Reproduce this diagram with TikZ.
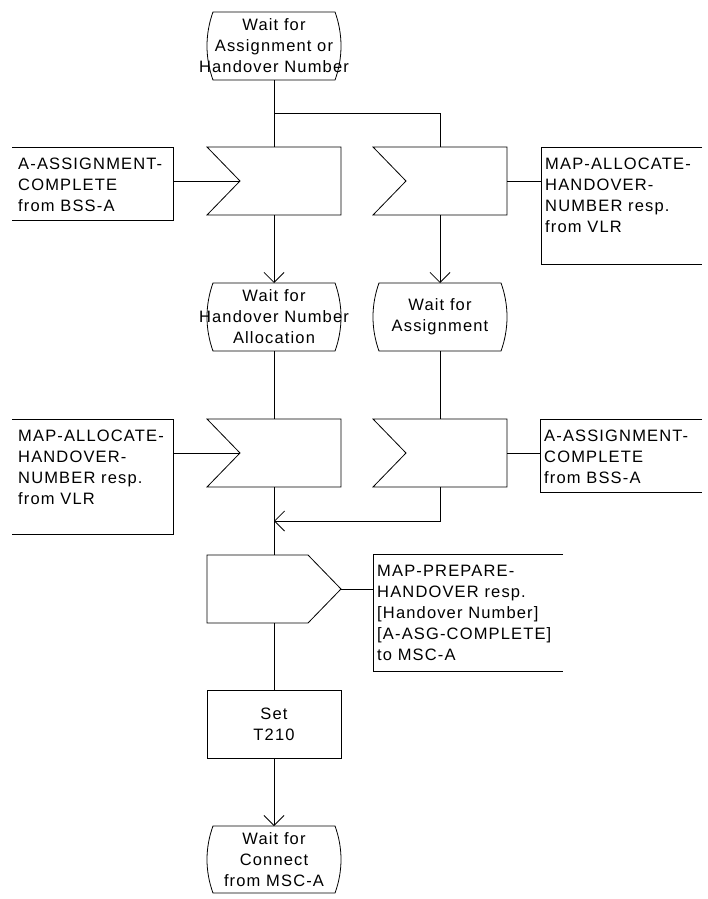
\documentclass[tikz,border=0pt]{standalone}
\usepackage{fontspec}
\setmainfont{Liberation Sans}[LetterSpace=7]
\usetikzlibrary{arrows.meta}
\tikzset{
  ln/.style={line width=0.8pt},
  arr/.style={ln, -{Straight Barb[length=10pt,width=20pt]}},
  txt/.style={font=\fontsize{16.5}{21}\selectfont, inner sep=0pt},
  stxt/.style={txt, anchor=center, align=center},
  ctxtl/.style={txt, anchor=north west, align=left, inner xsep=6pt, inner ysep=11pt},
  ctxtr/.style={txt, anchor=north west, align=left, inner xsep=4pt, inner ysep=11pt},
  base/.style={minimum width=134pt, minimum height=68pt, inner sep=0pt, outer sep=0pt},
  statebox/.style={base,
    append after command={\pgfextra{\draw[ln]
      ([xshift=6pt]\tikzlastnode.north west) -- ([xshift=-6pt]\tikzlastnode.north east)
      .. controls ([xshift=2pt,yshift=-22pt]\tikzlastnode.north east) and ([xshift=2pt,yshift=22pt]\tikzlastnode.south east) .. ([xshift=-6pt]\tikzlastnode.south east)
      -- ([xshift=6pt]\tikzlastnode.south west)
      .. controls ([xshift=-2pt,yshift=22pt]\tikzlastnode.south west) and ([xshift=-2pt,yshift=-22pt]\tikzlastnode.north west) .. cycle;}}},
  inbox/.style={base,
    append after command={\pgfextra{\draw[ln]
      (\tikzlastnode.north west) -- (\tikzlastnode.north east) -- (\tikzlastnode.south east)
      -- (\tikzlastnode.south west) -- ([xshift=33pt]\tikzlastnode.west) -- cycle;}}},
  outbox/.style={base,
    append after command={\pgfextra{\draw[ln]
      (\tikzlastnode.north west) -- ([xshift=-33pt]\tikzlastnode.north east) -- (\tikzlastnode.east)
      -- ([xshift=-33pt]\tikzlastnode.south east) -- (\tikzlastnode.south west) -- cycle;}}},
  taskbox/.style={base, draw, ln},
  lcomm/.style={inner sep=0pt, outer sep=0pt,
    append after command={\pgfextra{\draw[ln]
      (\tikzlastnode.north west) -- (\tikzlastnode.north east) -- (\tikzlastnode.south east) -- (\tikzlastnode.south west);}}},
  rcomm/.style={inner sep=0pt, outer sep=0pt,
    append after command={\pgfextra{\draw[ln]
      (\tikzlastnode.north east) -- (\tikzlastnode.north west) -- (\tikzlastnode.south west) -- (\tikzlastnode.south east);}}},
}
\begin{document}
\begin{tikzpicture}[x=1pt, y=-1pt]
\useasboundingbox (0,0) rectangle (707,899);

% states, inputs, outputs, tasks
\node[statebox, label={[stxt]center:{Wait for\\Assignment or\\Handover Number}}] (s0) at (274,46) {};
\node[inbox] (in1) at (274,181) {};
\node[inbox] (in2) at (440,181) {};
\node[statebox, label={[stxt]center:{Wait for\\Handover Number\\Allocation}}] (s1) at (274,317) {};
\node[statebox, label={[stxt]center:{Wait for\\Assignment}}] (s2) at (440,317) {};
\node[inbox] (in3) at (274,453) {};
\node[inbox] (in4) at (440,453) {};
\node[outbox] (out1) at (274,589) {};
\node[taskbox, label={[stxt]center:{Set\\T210}}] (t1) at (274,724.5) {};
\node[statebox, minimum height=67pt, label={[stxt]center:{Wait for\\Connect\\from MSC-A}}] (s3) at (274,859.5) {};

% comments
\node[lcomm, minimum width=161pt, minimum height=73pt, label={[ctxtl]north west:{A-ASSIGNMENT-\\COMPLETE\\from BSS-A}}] (c1) at (92.5,183.5) {};
\node[rcomm, minimum width=161pt, minimum height=117pt, label={[ctxtr]north west:{MAP-ALLOCATE-\\HANDOVER-\\NUMBER resp.\\from VLR}}] (c2) at (621.5,205.5) {};
\node[lcomm, minimum width=161pt, minimum height=115pt, label={[ctxtl]north west:{MAP-ALLOCATE-\\HANDOVER-\\NUMBER resp.\\from VLR}}] (c3) at (92.5,476.5) {};
\node[rcomm, minimum width=162pt, minimum height=73pt, label={[ctxtr]north west:{A-ASSIGNMENT-\\COMPLETE\\from BSS-A}}] (c4) at (621,455.5) {};
\node[rcomm, minimum width=190pt, minimum height=117pt, label={[ctxtr]north west:{MAP-PREPARE-\\HANDOVER resp.\\{[Handover Number]}\\{[A-ASG-COMPLETE]}\\to MSC-A}}] (c5) at (468,612.5) {};

% helper coordinates
\coordinate (br) at (274,113);
\coordinate (mg) at (274,521);
\coordinate (n1) at ([xshift=33pt]in1.west);
\coordinate (n3) at ([xshift=33pt]in3.west);

% flow lines
\draw[ln] (s0.south) -- (in1.north);
\draw[ln] (br) -| (in2.north);
\draw[arr] (in1.south) -- (s1.north);
\draw[arr] (in2.south) -- (s2.north);
\draw[ln] (s1.south) -- (in3.north);
\draw[ln] (s2.south) -- (in4.north);
\draw[ln] (in3.south) -- (out1.north);
\draw[arr] (in4.south) |- (mg);
\draw[ln] (out1.south) -- (t1.north);
\draw[arr] (t1.south) -- (s3.north);

% comment links
\draw[ln] (c1.east |- n1) -- (n1);
\draw[ln] (in2.east) -- (in2.east -| c2.west);
\draw[ln] (c3.east |- n3) -- (n3);
\draw[ln] (in4.east) -- (in4.east -| c4.west);
\draw[ln] (out1.east) -- (out1.east -| c5.west);
\end{tikzpicture}
\end{document}
